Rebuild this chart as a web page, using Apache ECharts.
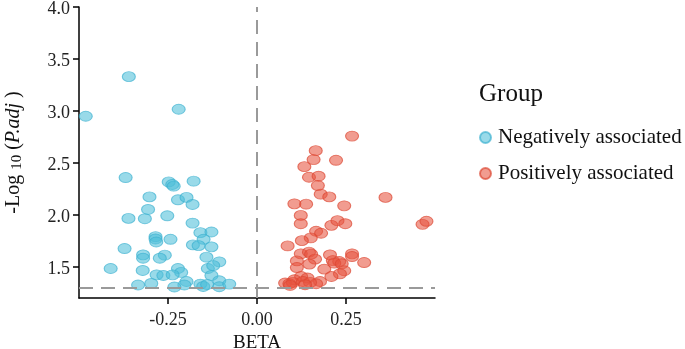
<!DOCTYPE html>
<html>
<head>
<meta charset="utf-8">
<script src="https://cdn.jsdelivr.net/npm/echarts@6/dist/echarts.min.js"></script>
<style>
    html, body { margin: 0; padding: 0; background: #fff; }
    #chart { width: 685px; height: 349px; }
</style>
</head>
<body>
<div id="chart"></div>
<script>
// 分组
const groups = ['Negatively associated', 'Positively associated'];

// BETA / -log10(P.adj)，负相关
const negBeta = [-0.481, -0.360, -0.220, -0.369, -0.248, -0.238, -0.234, -0.178, -0.302, -0.222,
    -0.198, -0.181, -0.306, -0.252, -0.361, -0.315, -0.181, -0.159, -0.128, -0.285,
    -0.285, -0.283, -0.243, -0.150, -0.372, -0.180, -0.164, -0.128, -0.320, -0.320,
    -0.259, -0.273, -0.142, -0.106, -0.411, -0.321, -0.222, -0.213, -0.138, -0.123,
    -0.282, -0.263, -0.237, -0.128, -0.297, -0.334, -0.198, -0.204, -0.232, -0.159,
    -0.151, -0.140, -0.106, -0.106, -0.078];
const negLogP = [2.949, 3.330, 3.016, 2.359, 2.317, 2.292, 2.276, 2.324, 2.173, 2.145,
    2.168, 2.100, 2.052, 1.991, 1.966, 1.963, 1.921, 1.829, 1.835, 1.790,
    1.768, 1.739, 1.765, 1.765, 1.676, 1.711, 1.704, 1.692, 1.615, 1.583,
    1.612, 1.583, 1.593, 1.548, 1.484, 1.465, 1.484, 1.446, 1.484, 1.512,
    1.423, 1.417, 1.423, 1.417, 1.340, 1.325, 1.359, 1.325, 1.306, 1.334,
    1.311, 1.330, 1.366, 1.308, 1.334];

// 正相关
const posBeta = [0.267, 0.165, 0.159, 0.222, 0.133, 0.146, 0.173, 0.171, 0.179, 0.203,
    0.361, 0.105, 0.138, 0.245, 0.123, 0.123, 0.209, 0.226, 0.248, 0.465,
    0.476, 0.166, 0.180, 0.151, 0.126, 0.086, 0.123, 0.146, 0.152, 0.205,
    0.267, 0.267, 0.112, 0.163, 0.213, 0.231, 0.301, 0.147, 0.217, 0.238,
    0.112, 0.189, 0.245, 0.233, 0.209, 0.124, 0.142, 0.105, 0.177, 0.166,
    0.079, 0.091, 0.101, 0.129, 0.149, 0.093, 0.135];
const posLogP = [2.758, 2.618, 2.532, 2.525, 2.464, 2.362, 2.372, 2.282, 2.199, 2.173,
    2.168, 2.106, 2.103, 2.087, 1.995, 1.915, 1.899, 1.944, 1.915, 1.909,
    1.938, 1.842, 1.823, 1.778, 1.752, 1.701, 1.625, 1.641, 1.622, 1.615,
    1.625, 1.599, 1.557, 1.574, 1.560, 1.551, 1.541, 1.526, 1.535, 1.529,
    1.493, 1.478, 1.462, 1.433, 1.407, 1.407, 1.392, 1.375, 1.359, 1.337,
    1.344, 1.337, 1.350, 1.359, 1.350, 1.321, 1.328];

// 坐标轴刻度
const xTicks = [-0.25, 0, 0.25];
const yTicks = [1.5, 2.0, 2.5, 3.0, 3.5, 4.0];
const pCut = 1.301; // -log10(0.05)

const font = 'Liberation Serif';
const ellipse = 'path://M1,0A1,1,0,1,1,-1,0A1,1,0,1,1,1,0Z';

const zip = (xs, ys) => xs.map((x, i) => [x, ys[i]]);

const myChart = echarts.init(document.getElementById('chart'));
const option = {
    animation: false,
    textStyle: { fontFamily: font },
    title: {
        text: 'Group',
        left: 474,
        top: 77,
        textStyle: { fontFamily: font, fontSize: 25, fontWeight: 'normal', color: '#111' }
    },
    legend: {
        data: groups,
        orient: 'vertical',
        left: 474,
        top: 122,
        itemWidth: 15,
        itemHeight: 11,
        itemGap: 15,
        textStyle: { fontFamily: font, fontSize: 21, color: '#111' }
    },
    grid: { left: 79, right: 250, top: 7, bottom: 51, containLabel: false, outerBoundsMode: 'none' },
    xAxis: {
        type: 'value',
        min: -0.5,
        max: 0.5,
        interval: 0.25,
        name: 'BETA',
        nameLocation: 'middle',
        nameGap: 35,
        nameTextStyle: { fontFamily: font, fontSize: 19, color: '#111' },
        axisLine: { onZero: false, lineStyle: { color: '#000', width: 1.5 } },
        axisTick: { customValues: xTicks, length: 6, lineStyle: { color: '#000', width: 1.5 } },
        axisLabel: {
            customValues: xTicks,
            formatter: v => v.toFixed(2),
            fontFamily: font, fontSize: 18, color: '#222', margin: 13
        },
        splitLine: { show: false }
    },
    yAxis: {
        type: 'value',
        min: 1.2,
        max: 4.0,
        name: '-Log {sub|10} ({it|P.adj} )',
        nameLocation: 'middle',
        nameRotate: 90,
        nameGap: 54,
        nameTextStyle: {
            fontFamily: font, fontSize: 20, color: '#111',
            rich: {
                sub: { fontFamily: font, fontSize: 15, color: '#111', verticalAlign: 'bottom', padding: [8, 0, 0, 0] },
                it: { fontFamily: font, fontSize: 20, fontStyle: 'italic', color: '#111' }
            }
        },
        axisLine: { show: true, onZero: false, lineStyle: { color: '#000', width: 1.5 } },
        axisTick: { show: true, customValues: yTicks, length: 6, lineStyle: { color: '#000', width: 1.5 } },
        axisLabel: {
            customValues: yTicks,
            formatter: v => '{t|' + v.toFixed(1) + '}',
            margin: 9,
            rich: {
                t: { fontFamily: font, fontSize: 18, color: '#222', padding: [4, 0, 0, 0] }
            }
        },
        splitLine: { show: false }
    },
    series: [
        {
            name: groups[0],
            type: 'scatter',
            symbol: ellipse,
            symbolSize: [13, 10],
            itemStyle: { color: 'rgba(78,190,216,0.72)', borderColor: 'rgba(62,178,208,0.85)', borderWidth: 1 },
            data: zip(negBeta, negLogP),
            markLine: {
                silent: true,
                symbol: 'none',
                label: { show: false },
                lineStyle: { color: '#9a9a9a', width: 2, type: [14, 8] },
                data: [{ yAxis: pCut }, { xAxis: 0 }]
            }
        },
        {
            name: groups[1],
            type: 'scatter',
            symbol: ellipse,
            symbolSize: [13, 10],
            itemStyle: { color: 'rgba(230,84,62,0.72)', borderColor: 'rgba(220,70,50,0.85)', borderWidth: 1 },
            data: zip(posBeta, posLogP)
        }
    ]
};
myChart.setOption(option);
</script>
</body>
</html>
